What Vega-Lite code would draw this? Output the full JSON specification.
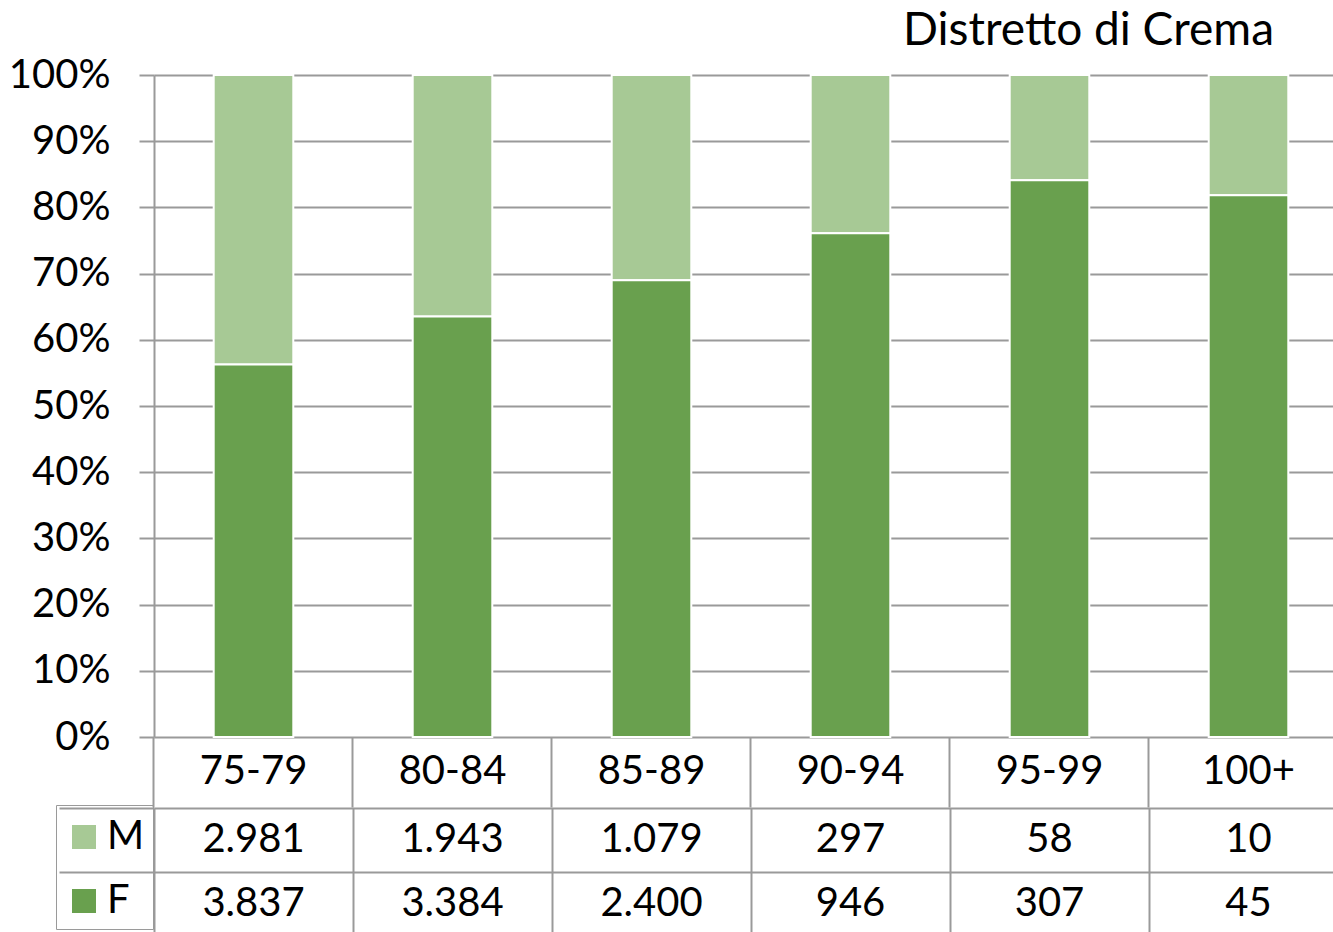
{
  "$schema": "https://vega.github.io/schema/vega-lite/v6.json",
  "padding": {"left": 8, "top": 8, "right": 0, "bottom": 0},
  "background": "white",
  "spacing": -2,
  "config": {
    "view": {"stroke": null},
    "font": "Lato",
    "locale": {"number": {"decimal": ",", "thousands": ".", "grouping": [3], "currency": ["€", ""]}}
  },
  "data": {
    "values": [
      {"age": "75-79", "sex": "M", "count": 2981},
      {"age": "75-79", "sex": "F", "count": 3837},
      {"age": "80-84", "sex": "M", "count": 1943},
      {"age": "80-84", "sex": "F", "count": 3384},
      {"age": "85-89", "sex": "M", "count": 1079},
      {"age": "85-89", "sex": "F", "count": 2400},
      {"age": "90-94", "sex": "M", "count": 297},
      {"age": "90-94", "sex": "F", "count": 946},
      {"age": "95-99", "sex": "M", "count": 58},
      {"age": "95-99", "sex": "F", "count": 307},
      {"age": "100+", "sex": "M", "count": 10},
      {"age": "100+", "sex": "F", "count": 45}
    ]
  },
  "vconcat": [
    {
      "width": 1181,
      "height": 662,
      "title": {"text": "Distretto di Crema", "anchor": "end", "fontSize": 46, "fontWeight": "normal", "color": "black", "font": "Lato", "dx": -74, "offset": 0},
      "mark": {"type": "bar", "stroke": "white", "strokeWidth": 2},
      "encoding": {
        "x": {
          "field": "age", "type": "nominal",
          "sort": ["75-79", "80-84", "85-89", "90-94", "95-99", "100+"],
          "scale": {"range": [0, 1194], "paddingInner": 0.6, "paddingOuter": 0.3},
          "axis": {"title": null, "domain": false, "labelAngle": 0, "labelFontSize": 40, "labelFont": "Lato", "labelColor": "black", "tickSize": 70, "tickColor": "#9a9a9a", "tickWidth": 2, "bandPosition": -0.75, "labelPadding": -56, "labelBaseline": "top"}
        },
        "y": {
          "field": "count", "type": "quantitative", "stack": "normalize",
          "scale": {"domain": [0, 1]},
          "axis": {"title": null, "values": [0, 0.1, 0.2, 0.3, 0.4, 0.5, 0.6, 0.7, 0.8, 0.9, 1], "format": ".0%", "labelFontSize": 40, "labelFont": "Lato", "labelColor": "black", "labelPadding": 29, "tickSize": 15, "tickColor": "#9a9a9a", "tickWidth": 2, "grid": true, "gridColor": "#9a9a9a", "gridWidth": 2, "domainColor": "#9a9a9a", "domainWidth": 2}
        },
        "color": {
          "field": "sex", "type": "nominal",
          "scale": {"domain": ["M", "F"], "range": ["#A7C995", "#69A04E"]},
          "legend": {"orient": "none", "legendX": -98, "legendY": 730, "title": " ", "titleFontSize": 2, "titlePadding": 2, "symbolType": "square", "symbolSize": 576, "symbolStrokeWidth": 0, "symbolOpacity": 1, "labelFontSize": 40, "labelFont": "Lato", "labelColor": "black", "strokeColor": "#9a9a9a", "padding": 8, "rowPadding": 24, "labelOffset": 3}
        },
        "order": {"field": "sex", "sort": "ascending"}
      }
    },
    {
      "width": 1181,
      "height": 128,
      "mark": {"type": "text", "fontSize": 40, "font": "Lato", "color": "black", "align": "center", "baseline": "middle"},
      "encoding": {
        "x": {
          "field": "age", "type": "nominal",
          "sort": ["75-79", "80-84", "85-89", "90-94", "95-99", "100+"],
          "scale": {"range": [0, 1194], "paddingInner": 0, "paddingOuter": 0},
          "axis": {"title": null, "labels": false, "ticks": false, "domain": false, "grid": true, "gridColor": "#9a9a9a", "gridWidth": 2, "tickBand": "extent"}
        },
        "y": {
          "field": "sex", "type": "nominal", "sort": ["M", "F"],
          "scale": {"paddingInner": 0, "paddingOuter": 0},
          "axis": {"title": null, "labels": false, "domain": false, "grid": true, "gridColor": "#9a9a9a", "gridWidth": 2, "tickBand": "extent", "tickSize": 95, "tickColor": "#9a9a9a", "tickWidth": 2}
        },
        "text": {"field": "count", "type": "quantitative", "format": ",d"}
      }
    }
  ]
}
